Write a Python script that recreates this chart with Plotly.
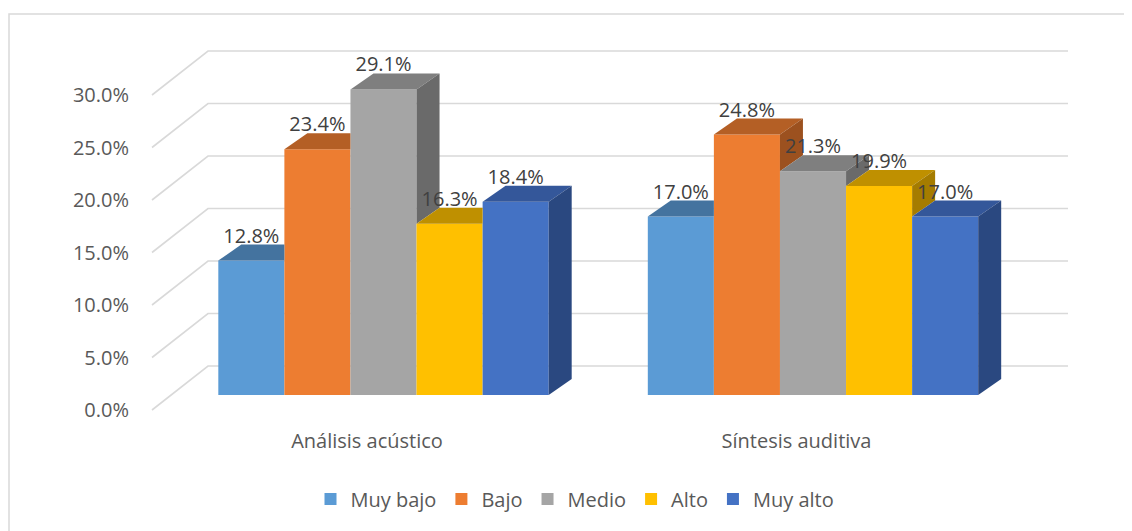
import plotly.graph_objects as go

# ---------------- data ----------------
categories = ["Análisis acústico", "Síntesis auditiva"]
series_names = ["Muy bajo", "Bajo", "Medio", "Alto", "Muy alto"]
muy_bajo = [0.128, 0.170]
bajo = [0.234, 0.248]
medio = [0.291, 0.213]
alto = [0.163, 0.199]
muy_alto = [0.184, 0.170]
y_ticks = [0.0, 0.05, 0.10, 0.15, 0.20, 0.25, 0.30]

series_values = [muy_bajo, bajo, medio, alto, muy_alto]
front_colors = ["#5B9BD5", "#ED7D31", "#A5A5A5", "#FFC000", "#4472C4"]
top_colors = ["#44739F", "#B45F25", "#7F7F7F", "#BF9000", "#34579A"]
side_colors = ["#3A6389", "#9C511F", "#6A6A6A", "#A57C00", "#2A4880"]

# ---------------- layout geometry (screen pixels) ----------------
PAGE_OFF = 8                       # default body margin of the html page
W_FIG, H_FIG = 1132 - PAGE_OFF, 531 - PAGE_OFF
PX_L, PX_R, PX_T, PX_B = 134, 1120, 20, 427
CAT0_PX, SLOT_PX = 383.5, 429.5      # category centre / slot width
PX_PER_UNIT = 1050.0                 # vertical px per 100 %
BAR_BASE_PX = 395                    # baseline of bars (middle depth)
FRONT_BASE_PX = 410                  # baseline of front plane (tick labels)
BACK_BASE_PX = 366                   # baseline of back wall
FRONT_LEFT_PX, BACK_LEFT_PX, BACK_RIGHT_PX = 152, 208, 1068
DEPTH_DX_PX, DEPTH_DY_PX = 23, 16
GAP = 1.5
W = 1.0 / (len(series_names) + GAP)


def xu(px):
    return (px - CAT0_PX) / SLOT_PX


def du_x(px):
    return px / SLOT_PX


def du_y(px):
    return px / PX_PER_UNIT


DX, DY = du_x(DEPTH_DX_PX), du_y(DEPTH_DY_PX)
FONT = "Open Sans"

fig = go.Figure()

# front faces as real bars
bar_x = []
for j, (name, vals) in enumerate(zip(series_names, series_values)):
    xs = [i + (j - (len(series_names) - 1) / 2) * W for i in range(len(categories))]
    bar_x.append(xs)
    fig.add_trace(go.Bar(
        x=xs, y=vals, width=W, name=name, xaxis="x", yaxis="y2",
        marker=dict(color=front_colors[j], line=dict(width=0)),
        hoverinfo="skip",
    ))

# top and side faces (3D look), clipped by the neighbouring bar
for i in range(len(categories)):
    for j, vals in enumerate(series_values):
        h = vals[i]
        xc = bar_x[j][i]
        L, R = xc - W / 2, xc + W / 2
        nxt = series_values[j + 1][i] if j + 1 < len(series_values) else None
        c = 0.0 if nxt is None else min(max(nxt - h, 0.0), DY)
        tx = [L, R, R, R + DX * (DY - c) / DY, L + DX, L]
        ty = [h, h, h + c, h + DY, h + DY, h]
        fig.add_trace(go.Scatter(
            x=tx, y=ty, xaxis="x", yaxis="y2", mode="lines", fill="toself",
            fillcolor=top_colors[j], line=dict(width=0), showlegend=False,
            hoverinfo="skip"))
        low = 0.0 if nxt is None else nxt
        if h > low:
            sx = [R, R + DX, R + DX, R, R]
            sy = [low, low + DY, h + DY, h, low]
            fig.add_trace(go.Scatter(
                x=sx, y=sy, xaxis="x", yaxis="y2", mode="lines", fill="toself",
                fillcolor=side_colors[j], line=dict(width=0), showlegend=False,
                hoverinfo="skip"))

# data labels
for j, vals in enumerate(series_values):
    fig.add_trace(go.Scatter(
        x=bar_x[j], y=[v + DY + du_y(7) for v in vals], xaxis="x", yaxis="y2",
        mode="text", text=[f"{v * 100:.1f}%" for v in vals],
        textposition="middle center",
        textfont=dict(family=FONT, size=20, color="#404040"),
        showlegend=False, hoverinfo="skip", cliponaxis=False))

# invisible trace so that the value axis (front plane) is drawn
fig.add_trace(go.Scatter(x=[None], y=[None], xaxis="x", yaxis="y",
                         mode="markers", showlegend=False, hoverinfo="skip"))

# back wall gridlines (with diagonal side-wall segment)
shapes = []
off_front = du_y(FRONT_BASE_PX - BAR_BASE_PX)
off_back = du_y(BAR_BASE_PX - BACK_BASE_PX)
for v in y_ticks:
    path = (f"M {xu(FRONT_LEFT_PX)},{v - off_front} "
            f"L {xu(BACK_LEFT_PX)},{v + off_back} "
            f"L {xu(BACK_RIGHT_PX)},{v + off_back}")
    shapes.append(dict(type="path", path=path, xref="x", yref="y2",
                       line=dict(color="#D9D9D9", width=1.6), layer="below"))

# chart border
pw, ph = PX_R - PX_L, PX_B - PX_T
shapes.append(dict(type="rect", xref="paper", yref="paper",
                   x0=(9 - PX_L) / pw, x1=(1150 - PX_L) / pw,
                   y0=(PX_B - 550) / ph, y1=(PX_B - 14) / ph,
                   line=dict(color="#D9D9D9", width=1.5), layer="below"))

fig.update_layout(
    width=W_FIG, height=H_FIG,
    margin=dict(l=PX_L - PAGE_OFF, r=W_FIG + PAGE_OFF - PX_R,
                t=PX_T - PAGE_OFF, b=H_FIG + PAGE_OFF - PX_B, autoexpand=False),
    paper_bgcolor="white", plot_bgcolor="white",
    barmode="overlay", showlegend=True,
    shapes=shapes,
    xaxis=dict(range=[xu(PX_L), xu(PX_R)], showgrid=False, zeroline=False,
               showline=False, ticks="",
               tickvals=[i - du_x(16.5) for i in range(len(categories))],
               ticktext=categories,
               tickfont=dict(family=FONT, size=20, color="#595959")),
    yaxis=dict(range=[-du_y(PX_B - FRONT_BASE_PX), du_y(FRONT_BASE_PX - PX_T)],
               tickvals=y_ticks, tickformat=".1%", showgrid=False,
               zeroline=False, showline=False, ticks="", ticklabelstandoff=4,
               tickfont=dict(family=FONT, size=20, color="#595959")),
    yaxis2=dict(range=[-du_y(PX_B - BAR_BASE_PX), du_y(BAR_BASE_PX - PX_T)],
                overlaying="y", visible=False),
    legend=dict(orientation="h", xref="container", yref="container",
                x=(575 - PAGE_OFF) / W_FIG, xanchor="center",
                y=1 - (499 - PAGE_OFF) / H_FIG,
                yanchor="middle", traceorder="normal",
                font=dict(family=FONT, size=20, color="#595959"),
                itemwidth=30, bgcolor="rgba(0,0,0,0)"),
)

fig.write_html("out.html")
